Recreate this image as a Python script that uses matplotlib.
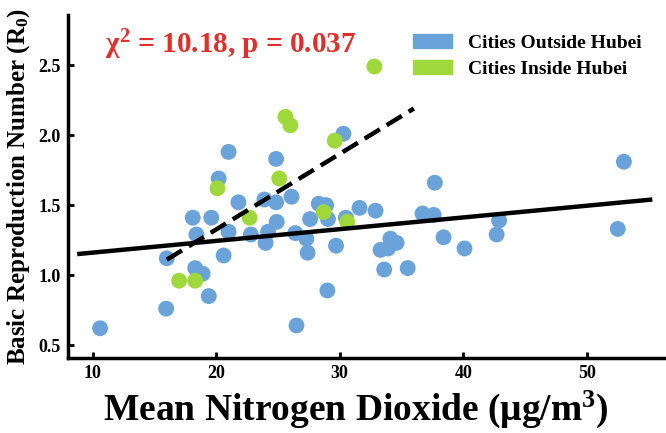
import matplotlib
matplotlib.use("Agg")
import matplotlib.pyplot as plt
from matplotlib.patches import Patch

# cities outside Hubei (NO2 mean, R0)
out_no2 = [10.6, 15.95, 16.0, 18.1, 18.4, 18.3, 18.9, 19.4, 19.6, 20.2, 20.6, 21.0,
           21.0, 21.8, 22.8, 23.9, 24.0, 24.2, 24.85, 24.9, 24.85, 26.1, 26.4, 26.5,
           27.3, 27.4, 27.6, 28.3, 28.9, 29.05, 29.0, 29.7, 30.3, 30.5, 31.6, 32.9,
           33.3, 33.9, 34.1, 34.6, 33.6, 35.5, 36.7, 37.6, 37.7, 38.4, 40.1, 42.7,
           42.9, 52.5, 53.0]
out_r0 = [0.62, 0.76, 1.12, 1.41, 1.29, 1.05, 1.01, 0.85, 1.41, 1.69, 1.14, 1.31,
          1.88, 1.52, 1.29, 1.54, 1.23, 1.31, 1.52, 1.38, 1.83, 1.56, 1.30, 0.64,
          1.26, 1.16, 1.40, 1.51, 1.50, 1.40, 0.89, 1.21, 2.01, 1.41, 1.48, 1.46,
          1.18, 1.19, 1.26, 1.23, 1.04, 1.05, 1.44, 1.43, 1.66, 1.27, 1.19, 1.29,
          1.39, 1.33, 1.81]

# cities inside Hubei
in_no2 = [17.0, 18.3, 20.1, 22.7, 25.1, 25.6, 26.0, 28.7, 29.6, 30.6, 32.8]
in_r0 = [0.96, 0.96, 1.62, 1.41, 1.69, 2.13, 2.07, 1.45, 1.96, 1.38, 2.49]

# fitted lines (end points)
fit_all_x = [8.75, 55.3]
fit_all_y = [1.15, 1.54]
fit_hubei_x = [16.0, 36.0]
fit_hubei_y = [1.11, 2.19]

blue = "#6AA2DA"
green = "#9FD83A"

plt.rcParams["font.family"] = ["Liberation Serif", "DejaVu Serif"]
plt.rcParams["font.weight"] = "bold"
plt.rcParams["mathtext.fontset"] = "custom"
plt.rcParams["mathtext.rm"] = "Liberation Serif:bold"
plt.rcParams["mathtext.it"] = "Liberation Serif:bold"

fig = plt.figure(figsize=(6.66, 4.33), dpi=100)
ax = fig.add_axes([0.102, 0.173, 0.896, 0.792])

ax.scatter(out_no2, out_r0, s=130, color=blue, edgecolors="none", zorder=2)
ax.scatter(in_no2, in_r0, s=130, color=green, edgecolors="none", zorder=3)
ax.plot(fit_all_x, fit_all_y, color="black", lw=3.2, zorder=4, solid_capstyle="butt")
ax.plot(fit_hubei_x, fit_hubei_y, color="black", lw=3.2, ls=(0, (4, 1.8)), zorder=4)

ax.set_xlim(8.0, 56.3)
ax.set_ylim(0.407, 2.857)
ax.set_xticks([10, 20, 30, 40, 50])
ax.set_yticks([0.5, 1.0, 1.5, 2.0, 2.5])
ax.set_yticklabels(["0.5", "1.0", "1.5", "2.0", "2.5"])

for s in ["top", "right"]:
    ax.spines[s].set_visible(False)
for s in ["left", "bottom"]:
    ax.spines[s].set_linewidth(2.5)
ax.tick_params(direction="in", length=4, width=2, labelsize=13, pad=5)
for lab in ax.get_xticklabels() + ax.get_yticklabels():
    lab.set_fontweight("bold")

ax.set_xlabel("Mean Nitrogen Dioxide (\u03bcg/m$^3$)", fontsize=27, fontweight="bold")
ax.xaxis.set_label_coords(0.482, -0.088)
ax.set_ylabel("Basic Reproduction Number (R$_0$)", fontsize=18, fontweight="bold", labelpad=5)

ax.text(0.062, 0.965, r"$\chi^2$ = 10.18, p = 0.037", transform=ax.transAxes,
        color="#E0302A", fontsize=21, fontweight="bold", va="top", ha="left")

handles = [Patch(color=blue, label="Cities Outside Hubei"),
           Patch(color=green, label="Cities Inside Hubei")]
ax.legend(handles=handles, loc="upper right", bbox_to_anchor=(0.99, 0.995), frameon=False,
          prop={"weight": "bold", "size": 14}, handlelength=2.0, handleheight=0.7,
          labelspacing=0.42, handletextpad=0.8)

fig.savefig("out.png", dpi=100)
